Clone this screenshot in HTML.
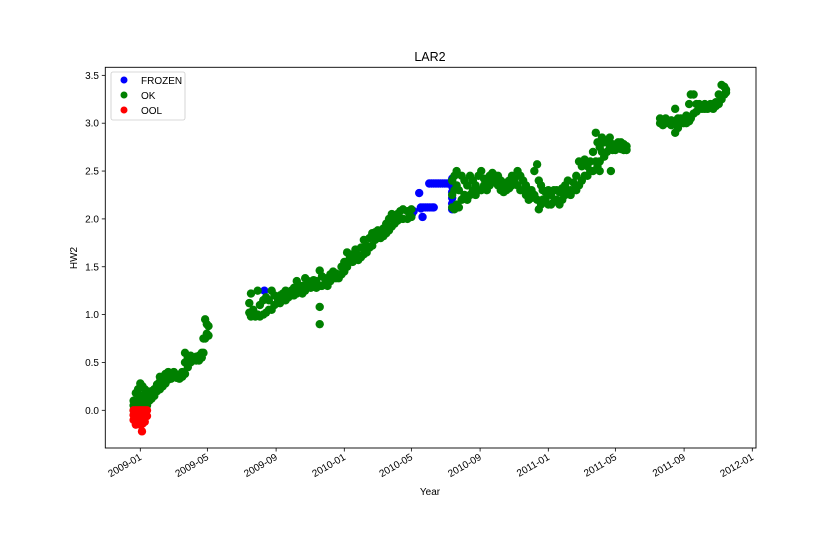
<!DOCTYPE html>
<html><head><meta charset="utf-8"><style>
body{margin:0;background:#fff;}
svg{display:block;font-family:"Liberation Sans",sans-serif;}
</style></head><body>
<svg id="chart" width="840" height="560">
<rect width="840" height="560" fill="#fff"/>
<text x="430" y="61" font-size="12.5" text-anchor="middle">LAR2</text>
<text x="430" y="495" font-size="10" text-anchor="middle">Year</text>
<text transform="translate(77,258) rotate(-90)" font-size="10" text-anchor="middle">HW2</text>
<g id="marks"></g>
<g id="axes"></g>
<rect x="105.3" y="67.3" width="650.7" height="380.7" fill="none" stroke="#000" stroke-width="0.9"/>
<g>
<rect x="111" y="72" width="74" height="48" rx="2" fill="#fff" fill-opacity="0.8" stroke="#ccc" stroke-width="0.8"/>
<g><circle cx="124" cy="80" r="3.5" fill="#0000ff"/><text x="141" y="84" font-size="10">FROZEN</text></g>
<g><circle cx="124" cy="95" r="3.5" fill="#008000"/><text x="141" y="99" font-size="10">OK</text></g>
<g><circle cx="124" cy="110" r="3.5" fill="#ff0000"/><text x="141" y="114" font-size="10">OOL</text></g>
</g>
</svg>
<script>
// day offsets from 2009-01-01
const xTickDays=[0,120,243,365,485,608,730,850,973,1095];
const xTickLabels=["2009-01","2009-05","2009-09","2010-01","2010-05","2010-09","2011-01","2011-05","2011-09","2012-01"];
const yTicks=[0,0.5,1,1.5,2,2.5,3,3.5];
const yTickLabels=["0.0","0.5","1.0","1.5","2.0","2.5","3.0","3.5"];

const okDays=[-12,-12,-12,-8,-8,-8,-4,-4,-4,0,0,0,4,4,4,8,8,8,12,12,12,16,16,20,20,25,25,30,30,35,35,35,40,40,45,45,50,50,55,55,60,60,65,65,70,70,75,75,80,80,80,85,85,90,90,95,95,100,100,105,105,110,110,113,113,116,116,119,119,122,122,
195,195,198,198,202,202,206,206,210,210,214,214,220,220,225,225,230,230,235,235,240,240,245,245,250,250,255,255,260,260,265,265,270,270,275,275,280,280,285,285,290,290,295,295,300,300,305,305,310,310,315,315,321,321,321,321,325,325,330,330,335,335,340,340,345,345,350,350,355,355,360,360,365,365,370,370,375,375,380,380,385,385,390,390,395,395,400,400,405,405,410,410,415,415,420,420,425,425,430,430,435,435,440,440,445,445,450,450,455,455,460,460,465,465,470,470,478,478,485,485,
558,558,558,562,562,562,566,566,566,570,570,575,575,580,580,585,585,590,590,595,595,600,600,605,605,610,610,615,615,620,620,625,625,630,630,635,635,640,640,645,645,650,650,655,655,660,660,665,665,670,670,675,675,680,680,685,685,690,690,695,695,700,700,705,705,710,710,713,713,717,717,720,720,725,725,730,730,735,735,740,740,745,745,750,750,755,755,760,760,765,765,770,770,775,775,780,780,785,785,790,790,795,795,800,800,805,805,810,810,815,815,818,818,822,822,822,826,826,830,830,835,835,840,840,842,845,845,850,850,855,855,860,860,865,865,870,870,
930,930,935,935,940,940,945,945,950,950,957,957,957,962,962,967,967,972,972,977,977,982,982,985,985,990,990,995,995,1000,1000,1005,1005,1010,1010,1015,1015,1020,1020,1025,1025,1030,1030,1035,1035,1040,1040,1045,1045,1048,1048];
const okVals=[0,0.05,0.1,0,0.08,0.18,0.02,0.1,0.22,0.05,0.15,0.28,0.05,0.12,0.25,0.05,0.15,0.22,0.05,0.1,0.2,0.1,0.15,0.12,0.2,0.15,0.22,0.2,0.27,0.22,0.3,0.35,0.25,0.33,0.28,0.38,0.32,0.4,0.33,0.38,0.35,0.4,0.34,0.37,0.33,0.36,0.35,0.4,0.38,0.5,0.6,0.45,0.55,0.5,0.57,0.52,0.55,0.52,0.56,0.52,0.57,0.55,0.6,0.6,0.75,0.75,0.95,0.8,0.9,0.78,0.88,
1.02,1.12,0.98,1.22,1,1.05,0.98,1,1,1.25,0.98,1.1,1,1.15,1.02,1.18,1.05,1.15,1.05,1.25,1.1,1.2,1.12,1.18,1.12,1.2,1.15,1.22,1.15,1.25,1.18,1.22,1.2,1.25,1.2,1.28,1.22,1.35,1.25,1.3,1.22,1.3,1.25,1.38,1.3,1.35,1.28,1.32,1.32,1.36,1.28,1.35,0.9,1.08,1.3,1.46,1.3,1.4,1.32,1.38,1.3,1.35,1.35,1.42,1.38,1.45,1.38,1.43,1.38,1.42,1.42,1.5,1.45,1.55,1.5,1.65,1.55,1.6,1.55,1.63,1.58,1.68,1.57,1.62,1.6,1.7,1.63,1.78,1.65,1.72,1.7,1.8,1.72,1.85,1.78,1.86,1.8,1.88,1.8,1.85,1.82,1.9,1.85,1.95,1.88,2,1.92,2.05,1.95,2.02,1.98,2.05,2,2.08,2,2.1,2,2.08,2.02,2.1,
2.12,2.25,2.4,2.1,2.3,2.45,2.15,2.5,2.35,2.12,2.3,2.2,2.45,2.25,2.4,2.2,2.35,2.25,2.45,2.3,2.4,2.25,2.35,2.3,2.45,2.3,2.5,2.35,2.42,2.3,2.4,2.35,2.45,2.38,2.48,2.4,2.45,2.35,2.45,2.3,2.4,2.28,2.35,2.3,2.38,2.32,2.4,2.35,2.45,2.38,2.42,2.35,2.5,2.3,2.45,2.3,2.4,2.25,2.35,2.2,2.3,2.22,2.3,2.25,2.5,2.2,2.57,2.1,2.4,2.15,2.35,2.2,2.3,2.2,2.28,2.15,2.3,2.15,2.25,2.18,2.3,2.2,2.3,2.15,2.28,2.2,2.32,2.25,2.35,2.28,2.4,2.25,2.3,2.3,2.38,2.3,2.45,2.35,2.6,2.4,2.55,2.45,2.62,2.45,2.55,2.5,2.6,2.5,2.7,2.6,2.9,2.55,2.8,2.6,2.75,2.5,2.7,2.85,2.65,2.8,2.7,2.82,2.75,2.85,2.5,2.72,2.78,2.72,2.76,2.75,2.8,2.73,2.8,2.72,2.78,2.72,2.76,
3,3.05,2.98,3.03,3,3.05,3,3.02,2.98,3.03,2.9,3.15,3,2.95,3.05,3,3.05,3,3.03,3,3.08,3.02,3.2,3.05,3.3,3.1,3.3,3.12,3.2,3.15,3.2,3.15,3.18,3.15,3.2,3.15,3.18,3.16,3.2,3.15,3.2,3.18,3.22,3.2,3.3,3.25,3.4,3.3,3.38,3.32,3.35];

const frozenDays=[222,483,486,489,499,502,505,502,506,510,514,518,522,525,517,521,525,529,533,537,541,545,549,553,557,558,558,558,558,558,558];
const frozenVals=[1.25,2.02,2.05,2.08,2.27,2.11,2.02,2.12,2.12,2.12,2.12,2.12,2.12,2.12,2.37,2.37,2.37,2.37,2.37,2.37,2.37,2.37,2.37,2.37,2.37,2.1,2.16,2.22,2.28,2.34,2.42];

const oolDays=[-12,-12,-12,-8,-8,-8,-8,-4,-4,-4,-4,0,0,0,0,3,4,4,4,8,8,8,12,12];
const oolVals=[0,-0.05,-0.1,0,-0.05,-0.1,-0.15,0,-0.05,-0.1,-0.12,0,-0.05,-0.1,-0.15,-0.22,0,-0.08,-0.14,0,-0.05,-0.12,0,-0.06];

const NS="http://www.w3.org/2000/svg";
function xs(d){return 140.3+d*(612/1095);}
function ys(v){return 410.3-v*95.7;}
const marks=document.getElementById('marks');
const axes=document.getElementById('axes');
function series(days,vals,color,name){
  const g=document.createElementNS(NS,'g');
  
  
  for(let i=0;i<days.length;i++){
    const c=document.createElementNS(NS,'circle');
    c.setAttribute('cx',xs(days[i]));c.setAttribute('cy',ys(vals[i]));
    c.setAttribute('r',4.2);c.setAttribute('fill',color);
    
    
    g.appendChild(c);
  }
  marks.appendChild(g);
}
series(frozenDays,frozenVals,'#0000ff','frozen-series');
series(okDays,okVals,'#008000','ok-series');
series(oolDays,oolVals,'#ff0000','ool-series');

xTickDays.forEach((d,i)=>{
  const x=xs(d);
  const l=document.createElementNS(NS,'line');
  l.setAttribute('x1',x);l.setAttribute('x2',x);l.setAttribute('y1',448);l.setAttribute('y2',451.5);
  l.setAttribute('stroke','#000');l.setAttribute('stroke-width','0.8');
  
  
  axes.appendChild(l);
  const t=document.createElementNS(NS,'text');
  t.setAttribute('transform','translate('+(x+2)+',459) rotate(-30)');
  t.setAttribute('text-anchor','end');t.setAttribute('font-size','10');
  t.textContent=xTickLabels[i];
  
  
  axes.appendChild(t);
});
yTicks.forEach((v,i)=>{
  const y=ys(v);
  const l=document.createElementNS(NS,'line');
  l.setAttribute('x1',101.8);l.setAttribute('x2',105.3);l.setAttribute('y1',y);l.setAttribute('y2',y);
  l.setAttribute('stroke','#000');l.setAttribute('stroke-width','0.8');
  
  
  axes.appendChild(l);
  const t=document.createElementNS(NS,'text');
  t.setAttribute('x',99);t.setAttribute('y',y+3.5);
  t.setAttribute('text-anchor','end');t.setAttribute('font-size','10');
  t.textContent=yTickLabels[i];
  
  
  axes.appendChild(t);
});
</script>
</body></html>
